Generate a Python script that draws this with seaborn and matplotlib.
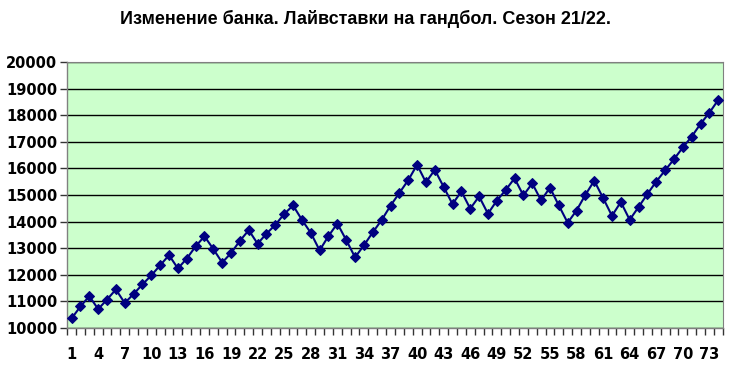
import matplotlib
matplotlib.use("Agg")
import matplotlib.pyplot as plt
import seaborn as sns
import pandas as pd
import numpy as np

title = "Изменение банка. Лайвставки на гандбол. Сезон 21/22."
rounds = list(range(1, 75))
bank = [10360, 10810, 11200, 10710, 11070, 11450, 10940, 11280, 11640, 11980,
        12360, 12740, 12240, 12610, 13070, 13450, 12970, 12460, 12820, 13280,
        13680, 13170, 13550, 13880, 14290, 14610, 14070, 13580, 12920, 13460,
        13930, 13310, 12660, 13110, 13600, 14060, 14600, 15080, 15560, 16140,
        15480, 15950, 15310, 14660, 15140, 14490, 14950, 14300, 14790, 15190,
        15630, 14990, 15440, 14800, 15280, 14610, 13960, 14420, 15010, 15540,
        14890, 14220, 14740, 14070, 14550, 15040, 15510, 15930, 16350, 16790,
        17200, 17680, 18100, 18580]
yticks = list(range(10000, 20001, 1000))
xtick_labels = list(range(1, 75, 3))

df = pd.DataFrame({"round": rounds, "bank": bank})

plt.rcdefaults()
plt.rcParams['font.family'] = ['DejaVu Sans']
plt.rcParams['xtick.bottom'] = True
plt.rcParams['ytick.left'] = True
plt.rcParams['xtick.major.size'] = 5
plt.rcParams['ytick.major.size'] = 5

fig = plt.figure(figsize=(7.3, 3.7), dpi=100)
ax = fig.add_axes([0.092, 0.1135, 0.898, 0.7185])
ax.set_facecolor("#CCFFCC")

sns.lineplot(data=df, x="round", y="bank", ax=ax, color="#000080",
             marker="D", markersize=5.5, markeredgecolor="#000080",
             linewidth=1.5, zorder=3)

ax.set_xlim(0.5, 74.5)
ax.set_ylim(10000, 20000)
ax.set_yticks(yticks)
ax.set_yticklabels([str(v) for v in yticks], fontsize=10.5, fontweight="bold",
                   color="black")
ax.set_xticks(np.arange(0.5, 75, 1))
ax.set_xticklabels([""] * 75)
ax.set_xticks(xtick_labels, minor=True)
ax.set_xticklabels([str(v) for v in xtick_labels], minor=True, fontsize=10.5,
                   fontweight="bold", color="black")
ax.tick_params(axis="x", which="major", bottom=True, length=5, width=1.0,
               color="#333333", direction="out")
ax.tick_params(axis="x", which="minor", bottom=True, length=0, pad=14)
ax.tick_params(axis="y", which="major", left=True, length=5, width=1.0,
               color="#333333", direction="out", pad=2)
ax.grid(axis="y", color="black", linewidth=1.0, zorder=1)
ax.grid(axis="x", visible=False)
ax.set_axisbelow(True)
ax.set_xlabel("")
ax.set_ylabel("")

for s in ["top", "right"]:
    ax.spines[s].set_color("#808080")
    ax.spines[s].set_linewidth(0.8)
for s in ["left", "bottom"]:
    ax.spines[s].set_color("#808080")
    ax.spines[s].set_linewidth(1.0)

fig.text(0.5, 0.95, title, ha="center", va="center", fontsize=13,
         fontweight="bold", color="black", family=["Liberation Sans", "DejaVu Sans"])

fig.savefig("out.png", dpi=100, facecolor="white")
